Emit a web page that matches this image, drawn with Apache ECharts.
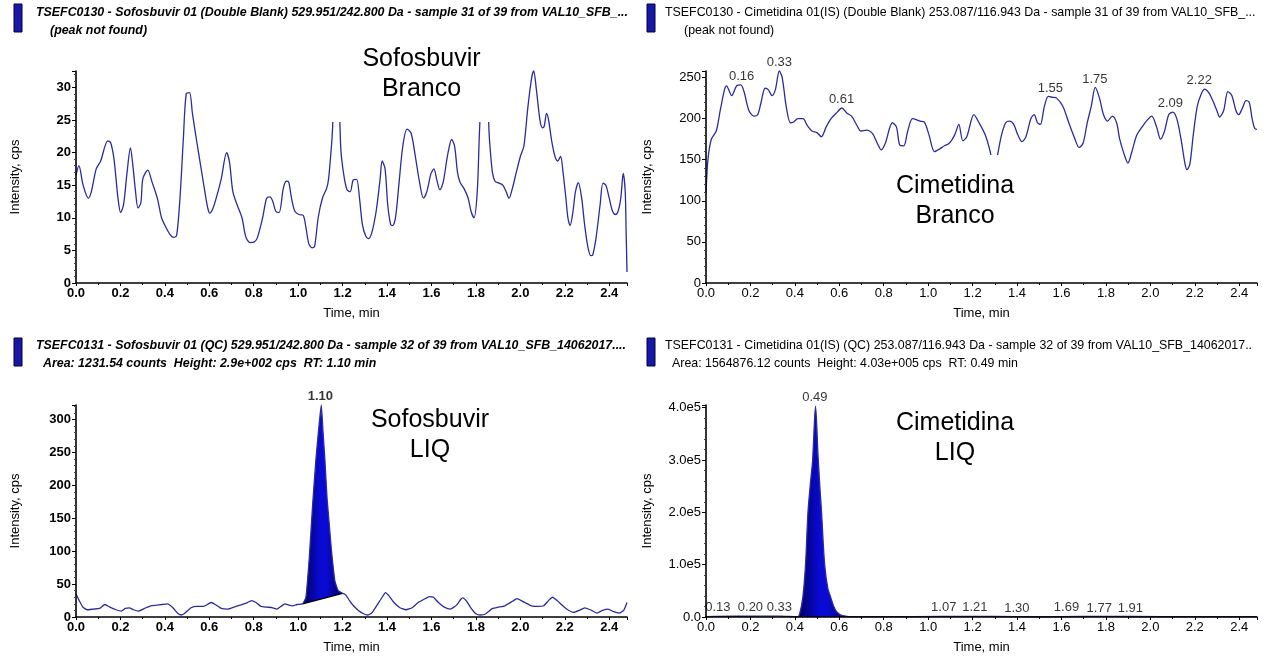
<!DOCTYPE html>
<html>
<head>
<meta charset="utf-8">
<script src="https://cdn.jsdelivr.net/npm/echarts@6/dist/echarts.min.js"></script>
<style>
html,body{margin:0;padding:0;background:#fff;}
#c{width:1274px;height:657px;}
</style>
</head>
<body>
<div id="c"></div>
<script>
// ================= DATA =================
// Panel titles
const titleSofBlank = 'TSEFC0130 - Sofosbuvir 01 (Double Blank) 529.951/242.800 Da - sample 31 of 39 from VAL10_SFB_...';
const subSofBlank = '(peak not found)';
const titleCimBlank = 'TSEFC0130 - Cimetidina 01(IS) (Double Blank) 253.087/116.943 Da - sample 31 of 39 from VAL10_SFB_...';
const subCimBlank = '(peak not found)';
const titleSofLiq = 'TSEFC0131 - Sofosbuvir 01 (QC) 529.951/242.800 Da - sample 32 of 39 from VAL10_SFB_14062017....';
const subSofLiq = 'Area: 1231.54 counts  Height: 2.9e+002 cps  RT: 1.10 min';
const titleCimLiq = 'TSEFC0131 - Cimetidina 01(IS) (QC) 253.087/116.943 Da - sample 32 of 39 from VAL10_SFB_14062017..';
const subCimLiq = 'Area: 1564876.12 counts  Height: 4.03e+005 cps  RT: 0.49 min';
const annotSofBlank = 'Sofosbuvir\nBranco';
const annotCimBlank = 'Cimetidina\nBranco';
const annotSofLiq = 'Sofosbuvir\nLIQ';
const annotCimLiq = 'Cimetidina\nLIQ';

// Axis ranges / ticks
const timeMax = 2.48, timeStep = 0.2;
const yMaxSofBlank = 32.5, yStepSofBlank = 5;
const yMaxCimBlank = 258, yStepCimBlank = 50;
const yMaxSofLiq = 322, yStepSofLiq = 50;
const yMaxCimLiq = 405000, yStepCimLiq = 100000;

// Sofosbuvir blank: [time (min), intensity (cps)]
const sofBlank = [[0,16.5],[0.013,18],[0.032,15],[0.056,13],[0.069,14],[0.091,17.5],[0.111,18.7],[0.143,21.8],[0.156,21.5],[0.171,19],[0.189,13],[0.201,10.8],[0.214,12],[0.230,17],[0.245,20.7],[0.256,18],[0.268,14],[0.279,11.5],[0.292,12.3],[0.301,16],[0.323,17.3],[0.342,15.5],[0.366,13],[0.385,10],[0.398,9],[0.422,7.5],[0.440,7],[0.453,7.3],[0.468,13],[0.483,22],[0.496,29],[0.511,29.2],[0.524,26],[0.542,22],[0.561,18],[0.580,14],[0.593,11.5],[0.602,10.7],[0.617,11.5],[0.635,13.5],[0.654,16],[0.678,20],[0.691,18.5],[0.706,14],[0.725,12],[0.747,10],[0.765,7],[0.784,6.2],[0.803,6.3],[0.817,7],[0.840,10],[0.858,13],[0.873,13.2],[0.886,12.5],[0.899,11],[0.914,10.8],[0.933,14.5],[0.946,15.6],[0.957,15.5],[0.970,13],[0.985,11],[1.003,10.5],[1.022,10.4],[1.035,8.5],[1.048,6],[1.063,5.4],[1.074,5.6],[1.090,10],[1.109,13],[1.128,14.5],[1.137,16],[1.152,22],[1.165,28],[1.180,28],[1.193,20],[1.208,16],[1.220,14.3],[1.234,14],[1.248,15.8],[1.263,15.9],[1.276,13],[1.289,9],[1.304,7.2],[1.317,6.8],[1.332,7.8],[1.351,11],[1.369,16],[1.378,18.7],[1.391,17.5],[1.403,12],[1.416,9],[1.425,8.8],[1.438,10],[1.453,15],[1.471,21],[1.490,23.6],[1.508,23],[1.527,19.5],[1.546,15.5],[1.564,13],[1.579,14],[1.598,16.8],[1.611,17.5],[1.624,15.8],[1.638,14.3],[1.653,15.5],[1.672,19.5],[1.691,22],[1.704,21],[1.717,17],[1.728,15.5],[1.746,14.5],[1.765,13],[1.778,11],[1.791,10],[1.806,14],[1.817,24],[1.828,29],[1.847,29],[1.861,22],[1.874,17],[1.886,15.6],[1.904,15.3],[1.921,15],[1.936,14],[1.949,13],[1.964,14.5],[1.982,17],[2.001,19.5],[2.016,21],[2.034,27],[2.051,31.5],[2.060,32.5],[2.071,30],[2.088,25],[2.099,23.8],[2.107,24],[2.118,26],[2.127,25],[2.140,22],[2.155,19.5],[2.168,18.7],[2.181,19.4],[2.192,17],[2.205,13],[2.214,10],[2.224,8.8],[2.237,11],[2.248,14],[2.261,15.4],[2.276,13],[2.289,9],[2.304,5.5],[2.317,4.2],[2.326,4.3],[2.341,7],[2.359,12],[2.372,15.3],[2.385,15],[2.400,13],[2.415,11],[2.428,10.5],[2.440,11],[2.452,13],[2.463,16.8],[2.472,14],[2.476,8],[2.480,1.7]];

// Cimetidina blank
const cimBlank = [[0,110],[0.009,151],[0.024,175],[0.046,185],[0.064,210],[0.083,235],[0.092,240],[0.116,228],[0.138,240],[0.156,241],[0.171,233],[0.193,210],[0.217,203],[0.233,205],[0.248,220],[0.266,237],[0.281,235],[0.297,228],[0.312,235],[0.330,258],[0.343,250],[0.361,215],[0.380,195],[0.394,196],[0.413,200],[0.437,200],[0.455,192],[0.477,185],[0.499,183],[0.519,178],[0.541,190],[0.563,200],[0.591,208],[0.611,213],[0.633,207],[0.655,203],[0.679,192],[0.697,185],[0.725,186],[0.749,182],[0.771,170],[0.789,162],[0.807,170],[0.839,195],[0.857,190],[0.872,168],[0.890,167],[0.908,185],[0.930,200],[0.963,197],[0.982,196],[1.004,180],[1.028,160],[1.051,163],[1.073,167],[1.095,170],[1.119,180],[1.138,193],[1.156,173],[1.174,178],[1.206,205],[1.229,195],[1.257,180],[1.279,160],[1.290,145],[1.303,140],[1.312,155],[1.330,180],[1.349,195],[1.367,197],[1.385,193],[1.404,180],[1.422,172],[1.440,178],[1.462,200],[1.477,205],[1.492,195],[1.505,193],[1.523,215],[1.541,227],[1.560,226],[1.578,225],[1.606,215],[1.633,195],[1.661,175],[1.679,165],[1.697,170],[1.716,195],[1.734,215],[1.752,238],[1.771,225],[1.789,205],[1.807,197],[1.829,203],[1.848,195],[1.862,175],[1.884,155],[1.899,146],[1.917,160],[1.939,180],[1.963,190],[1.982,197],[2.006,203],[2.028,190],[2.046,175],[2.064,185],[2.083,205],[2.101,208],[2.119,200],[2.138,175],[2.156,145],[2.165,138],[2.178,145],[2.193,180],[2.211,215],[2.229,230],[2.244,236],[2.262,232],[2.281,222],[2.299,210],[2.312,202],[2.330,210],[2.349,233],[2.367,228],[2.385,210],[2.398,205],[2.413,212],[2.431,222],[2.445,220],[2.458,200],[2.470,188],[2.480,187]];
const cimBlankPeaks = [0.16, 0.33, 0.61, 1.55, 1.75, 2.09, 2.22];

// Sofosbuvir LIQ: baseline noise before / integrated peak / after
const sofLiqBefore = [[0,35],[0.013,26],[0.031,15],[0.05,11],[0.078,12],[0.106,13],[0.13,19],[0.152,15],[0.18,11],[0.204,9],[0.222,13],[0.24,14],[0.259,11],[0.281,9],[0.308,13],[0.336,17],[0.363,18],[0.387,19],[0.413,20],[0.436,14],[0.46,5],[0.475,3],[0.491,6],[0.518,14],[0.545,16],[0.573,16],[0.596,20],[0.609,22],[0.627,19],[0.654,13],[0.682,12],[0.71,15],[0.738,18],[0.766,21],[0.79,25],[0.81,22],[0.832,16],[0.859,15],[0.886,14],[0.904,12],[0.922,16],[0.94,20],[0.958,18],[0.976,17],[0.995,19]];
const sofLiqPeak = [[1.02,20],[1.035,30],[1.05,90],[1.065,170],[1.08,240],[1.095,295],[1.104,322],[1.112,280],[1.12,240],[1.13,180],[1.14,140],[1.15,100],[1.165,55],[1.18,40],[1.2,36]];
const sofLiqAfter = [[1.213,34],[1.231,25],[1.249,17],[1.271,10],[1.294,5],[1.313,3],[1.331,6],[1.355,18],[1.378,30],[1.393,37],[1.409,32],[1.431,22],[1.458,14],[1.485,11],[1.513,14],[1.54,22],[1.567,27],[1.591,31],[1.609,30],[1.631,22],[1.658,15],[1.685,12],[1.713,18],[1.732,27],[1.741,29],[1.758,24],[1.777,14],[1.8,5],[1.82,3],[1.845,5],[1.875,13],[1.9,15],[1.93,17],[1.965,24],[1.985,28],[2.02,22],[2.05,17],[2.08,16],[2.105,17],[2.13,26],[2.145,30],[2.175,22],[2.205,13],[2.24,7],[2.265,10],[2.29,14],[2.315,11],[2.345,6],[2.37,10],[2.395,12],[2.42,8],[2.445,6],[2.465,10],[2.48,22]];
const sofLiqBaseline = [[1.02,20],[1.2,36]];
const sofLiqPeaks = [1.10];

// Cimetidina LIQ
const cimLiqBefore = [[0,800],[0.13,1500],[0.2,1400],[0.33,1600]];
const cimLiqPeak = [[0.4125,500],[0.421,5000],[0.436,38000],[0.448,100000],[0.459,200000],[0.471,260000],[0.48,300000],[0.493,403000],[0.504,310000],[0.513,245000],[0.52,200000],[0.534,100000],[0.548,55000],[0.561,38000],[0.575,20000],[0.5875,10000],[0.605,4000],[0.623,2000],[0.64,900]];
const cimLiqAfter = [[0.8,600],[1.07,1200],[1.21,1300],[1.30,1100],[1.5,500],[1.69,1200],[1.77,1100],[1.91,1000],[2.2,600],[2.48,700]];
const cimLiqPeaks = [0.13, 0.20, 0.33, 0.49, 1.07, 1.21, 1.30, 1.69, 1.77, 1.91];

// ================= STYLE / LAYOUT =================
const LINE = '#2b2b9e';
const SANS = "'Liberation Sans',Arial,sans-serif";
const grids = [
  {left:76, top:71, width:551, height:212},
  {left:706, top:71, width:551, height:212},
  {left:76, top:405, width:551, height:212},
  {left:706, top:405, width:551, height:212}
];
const boldPanel = [true, false, true, false];
const labelNudge = {'0.13': -17, '1.30': 22, '1.69': -15};

function isMultiple(v, step){ const r = v/step; return Math.abs(r - Math.round(r)) < 1e-6; }
function peakValue(data, t){
  let best = -Infinity;
  for (const p of data){ if (Math.abs(p[0]-t) <= 0.03 && p[1] > best) best = p[1]; }
  return best;
}
function peakGradient(){
  return new echarts.graphic.LinearGradient(0,0,1,0,[
    {offset:0, color:'#00005e'},{offset:0.45, color:'#0a0ad8'},{offset:0.6, color:'#0a0ad0'},{offset:1, color:'#00005e'}]);
}

function xAxisCfg(i){
  return {
    type:'value', gridIndex:i, min:0, max:timeMax, interval:timeStep, z:6,
    name:'Time, min', nameLocation:'middle', nameGap:24,
    nameTextStyle:{fontFamily:SANS, fontSize:13, color:'#000'},
    axisLine:{show:true, onZero:false, lineStyle:{color:'#000', width:1.6}},
    axisTick:{show:true, length:3, lineStyle:{color:'#000', width:1}},
    minorTick:{show:true, splitNumber:2, length:2, lineStyle:{color:'#000', width:1}},
    splitLine:{show:false}, minorSplitLine:{show:false},
    axisLabel:{margin:4, color:'#000', fontFamily:SANS, fontSize:13,
      fontWeight: boldPanel[i] ? 'bold' : 'normal',
      formatter: v => isMultiple(v, timeStep) ? v.toFixed(1) : ''}
  };
}
function yAxisCfg(i, max, step, fmt){
  return {
    type:'value', gridIndex:i, min:0, max:max, interval:step, z:6,
    name:'Intensity, cps', nameLocation:'middle', nameGap: i % 2 === 0 ? 54 : 52, nameRotate:90,
    nameTextStyle:{fontFamily:SANS, fontSize:13, color:'#000'},
    axisLine:{show:true, onZero:false, lineStyle:{color:'#000', width:1.6}},
    axisTick:{show:true, length:4, lineStyle:{color:'#000', width:1}},
    minorTick:{show:true, splitNumber:5, length:2, lineStyle:{color:'#444', width:1}},
    splitLine:{show:false}, minorSplitLine:{show:false},
    axisLabel:{margin:5, color:'#000', fontFamily:SANS, fontSize:13,
      fontWeight: boldPanel[i] ? 'bold' : 'normal',
      formatter: v => isMultiple(v, step) ? fmt(v) : ''}
  };
}

function traceSeries(i, data, smooth){
  return {type:'line', xAxisIndex:i, yAxisIndex:i, data:data, showSymbol:false, symbol:'none',
    smooth:smooth, clip:false, z:4, silent:true,
    lineStyle:{color:LINE, width:1.3}};
}
function fillSeries(i, data){
  return {type:'line', xAxisIndex:i, yAxisIndex:i, data:data, showSymbol:false, symbol:'none',
    smooth:0.3, z:2, silent:true, lineStyle:{width:0, opacity:0},
    areaStyle:{opacity:1, color:peakGradient()}};
}
// Integrated peak above a sloped baseline: polygon through the peak points, closed along the baseline
function baselineFillSeries(i, data){
  return {type:'custom', xAxisIndex:i, yAxisIndex:i, data:data, z:2, silent:true,
    encode:{x:0, y:1},
    renderItem:(params, api) => {
      if (params.dataIndex !== 0) return null;
      const pts = data.map(p => api.coord(p));
      return {type:'polygon', shape:{points:pts}, style:{fill:peakGradient(), stroke:null}};
    }};
}
function peakLabelSeries(i, curve, peaks, bold){
  return {type:'scatter', xAxisIndex:i, yAxisIndex:i, symbolSize:0, z:7, silent:true,
    data: peaks.map(t => {
      const txt = t.toFixed(2);
      const item = {value:[t, peakValue(curve, t), txt]};
      if (labelNudge[txt] !== undefined && i === 3) item.label = {offset:[labelNudge[txt], 0]};
      return item;
    }),
    label:{show:true, position:'top', distance:2, color:'#000', fontFamily:SANS, fontSize:13,
      fontWeight: bold ? 'bold' : 'normal', formatter: p => p.value[2]}};
}

const sofLiqAll = sofLiqBefore.concat(sofLiqPeak, sofLiqAfter);
const cimLiqAll = cimLiqBefore.concat(cimLiqPeak, cimLiqAfter);

function textEl(x, y, text, font, extra){
  return Object.assign({type:'text', x:x, y:y, z:200,
    style:Object.assign({text:text, font:font, fill:'#000', align:'left', verticalAlign:'middle'}, extra || {})});
}
function legendRect(x, y){
  return {type:'rect', z:200, shape:{x:x, y:y, width:8, height:28},
    style:{fill:'#1818a8', stroke:'#00003a', lineWidth:1}};
}

const option = {
  animation:false,
  backgroundColor:'#fff',
  grid: grids.map(g => Object.assign({containLabel:false, outerBoundsMode:'none'}, g)),
  xAxis:[xAxisCfg(0), xAxisCfg(1), xAxisCfg(2), xAxisCfg(3)],
  yAxis:[
    yAxisCfg(0, yMaxSofBlank, yStepSofBlank, v => String(v)),
    yAxisCfg(1, yMaxCimBlank, yStepCimBlank, v => String(v)),
    yAxisCfg(2, yMaxSofLiq, yStepSofLiq, v => String(v)),
    yAxisCfg(3, yMaxCimLiq, yStepCimLiq, v => v === 0 ? '0.0' : (v/1e5).toFixed(1) + 'e5')
  ],
  series:[
    traceSeries(0, sofBlank, 0.3),
    traceSeries(1, cimBlank, 0.3),
    peakLabelSeries(1, cimBlank, cimBlankPeaks, false),
    baselineFillSeries(2, sofLiqPeak),
    {type:'line', xAxisIndex:2, yAxisIndex:2, data:sofLiqBaseline, showSymbol:false, symbol:'none',
      z:3, silent:true, lineStyle:{color:'#000', width:1.2}},
    traceSeries(2, sofLiqAll, 0.15),
    peakLabelSeries(2, sofLiqAll, sofLiqPeaks, true),
    fillSeries(3, cimLiqPeak),
    traceSeries(3, cimLiqAll, 0.3),
    peakLabelSeries(3, cimLiqAll, cimLiqPeaks, false)
  ],
  graphic:[
    legendRect(14, 4), legendRect(647, 4), legendRect(14, 338), legendRect(647, 338),
    textEl(36, 13, titleSofBlank, 'italic bold 12.4px ' + SANS),
    textEl(50, 31, subSofBlank, 'italic bold 12.4px ' + SANS),
    textEl(665, 13, titleCimBlank, '12.4px ' + SANS),
    textEl(684, 31, subCimBlank, '12.4px ' + SANS),
    textEl(36, 346, titleSofLiq, 'italic bold 12.4px ' + SANS),
    textEl(43, 364, subSofLiq, 'italic bold 12.4px ' + SANS),
    textEl(665, 346, titleCimLiq, '12.4px ' + SANS),
    textEl(672, 364, subCimLiq, '12.4px ' + SANS),
    textEl(412, 44, annotSofBlank, '25px ' + SANS,
      {align:'center', verticalAlign:'top', lineHeight:30, backgroundColor:'#fff', padding:[0,12,18,31]}),
    textEl(955, 155, annotCimBlank, '25px ' + SANS,
      {align:'center', verticalAlign:'top', lineHeight:30, backgroundColor:'#fff', padding:[16,10,4,10]}),
    textEl(430, 405, annotSofLiq, '25px ' + SANS, {align:'center', verticalAlign:'top', lineHeight:30}),
    textEl(955, 408, annotCimLiq, '25px ' + SANS, {align:'center', verticalAlign:'top', lineHeight:30})
  ]
};

const chart = echarts.init(document.getElementById('c'), null, {renderer:'canvas', width:1274, height:657});
chart.setOption(option);
</script>
</body>
</html>
